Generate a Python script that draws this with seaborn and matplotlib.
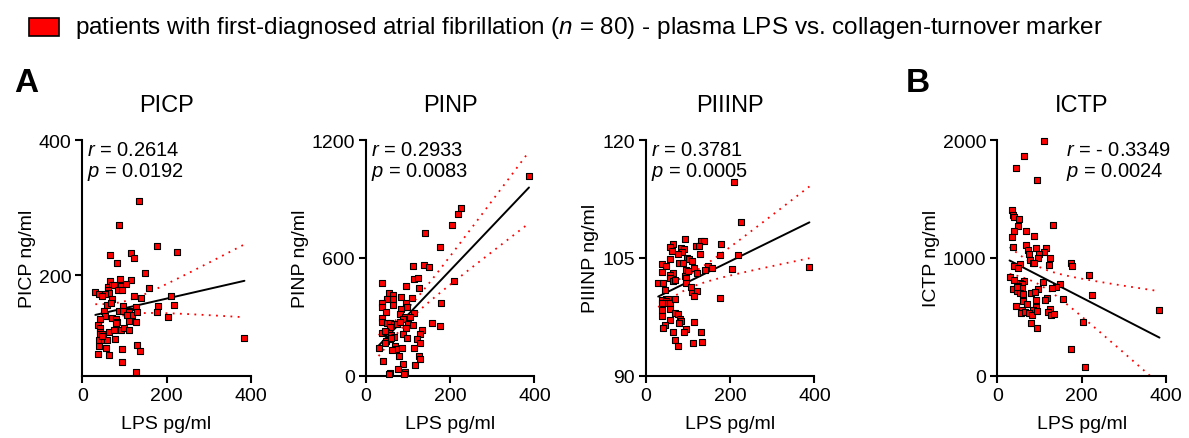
import numpy as np
import matplotlib
matplotlib.use("Agg")
import matplotlib.pyplot as plt
import matplotlib.patches as mpatches
import seaborn as sns

# values (LPS pg/ml vs. marker)
picp_lps = [135, 87, 177, 226, 67, 116, 123, 83, 149, 66, 90, 116, 60, 71, 76, 93, 103, 60, 64, 55,
            85, 94, 31, 39, 47, 158, 123, 140, 210, 71, 59, 180, 218, 97, 127, 112, 51, 86, 97, 111,
            118, 130, 177, 204, 53, 71, 80, 82, 112, 128, 41, 38, 41, 41, 41, 46, 49, 39, 51, 59,
            64, 76, 91, 99, 110, 77, 39, 57, 94, 130, 138, 38, 64, 95, 128, 385, 79, 68, 46, 105]
picp_val = [310, 275, 244, 235, 230, 233, 226, 219, 203, 192, 195, 194, 183, 186, 186, 184, 188, 178, 174, 172,
            178, 178, 175, 173, 170, 181, 170, 166, 170, 165, 156, 155, 157, 155, 154, 148, 148, 147, 148, 146,
            141, 146, 146, 139, 140, 137, 135, 132, 133, 132, 135, 127, 122, 117, 113, 113, 107, 104, 104, 104,
            117, 119, 120, 123, 119, 106, 96, 93, 91, 98, 88, 84, 82, 72, 57, 107, 130, 160, 110, 142]

pinp_lps = [387, 226, 219, 204, 139, 176, 111, 138, 149, 113, 123, 37, 94, 127, 210, 55, 63, 83, 109, 65,
            49, 38, 95, 178, 63, 39, 97, 84, 47, 114, 81, 93, 39, 89, 39, 49, 57, 67, 73, 80,
            99, 111, 157, 176, 95, 57, 39, 48, 54, 60, 87, 134, 129, 97, 122, 56, 48, 67, 59, 44,
            128, 30, 69, 72, 86, 115, 62, 125, 79, 129, 40, 89, 117, 75, 57, 55, 92, 90, 45, 104]
pinp_val = [1018, 852, 823, 766, 725, 654, 558, 566, 552, 492, 495, 472, 458, 448, 484, 421, 411, 399, 396, 391,
            391, 370, 372, 370, 362, 348, 348, 341, 323, 321, 314, 301, 292, 289, 275, 267, 267, 262, 262, 275,
            262, 260, 268, 251, 242, 250, 219, 224, 217, 209, 212, 231, 211, 192, 189, 187, 177, 199, 194, 168,
            166, 141, 150, 134, 143, 143, 131, 102, 102, 83, 75, 60, 56, 36, 16, 7, 17, 7, 230, 300]

piiinp_lps = [210, 226, 388, 93, 130, 138, 65, 56, 118, 127, 179, 83, 91, 86, 75, 128, 176, 219, 58, 98,
              102, 109, 79, 37, 47, 115, 148, 157, 139, 204, 94, 37, 64, 122, 57, 92, 94, 57, 63, 95,
              29, 40, 110, 122, 115, 176, 48, 52, 39, 47, 52, 58, 68, 38, 38, 56, 69, 75, 39, 56,
              81, 84, 78, 113, 45, 40, 95, 90, 130, 65, 69, 112, 134, 75, 100, 70, 44, 61, 88, 106]
piiinp_val = [114.7, 109.6, 103.8, 107.4, 107.2, 107.1, 106.8, 106.4, 106.5, 106.5, 106.8, 106.2, 106.1, 105.8, 105.5, 105.5, 105.3, 105.4, 104.9, 105.0,
              104.9, 104.6, 104.3, 104.2, 104.0, 103.7, 104.0, 103.7, 103.4, 103.6, 103.5, 103.2, 103.1, 103.1, 102.8, 102.7, 102.4, 102.4, 102.0, 101.8,
              101.8, 101.8, 100.6, 100.8, 100.1, 99.9, 99.8, 99.8, 99.6, 99.5, 99.3, 99.2, 99.8, 99.2, 98.4, 98.5, 98.0, 97.9, 97.6, 97.1,
              97.2, 97.0, 96.7, 96.8, 96.4, 96.1, 95.9, 95.6, 95.6, 95.5, 94.6, 94.2, 94.3, 93.8, 103.3, 102.2, 100.9, 105.9, 104.4, 101.3]

ictp_lps = [111, 64, 45, 93, 36, 38, 39, 51, 48, 133, 39, 68, 88, 36, 37, 69, 92, 115, 72, 110,
            75, 100, 126, 78, 96, 84, 88, 175, 178, 55, 39, 122, 50, 217, 29, 40, 64, 108, 54, 58,
            149, 49, 59, 140, 130, 38, 47, 54, 96, 81, 90, 225, 61, 117, 112, 156, 92, 62, 91, 44,
            126, 121, 58, 84, 56, 66, 74, 82, 93, 128, 135, 385, 203, 79, 95, 175, 209, 47, 60, 70]
ictp_val = [1989, 1861, 1765, 1663, 1409, 1363, 1344, 1327, 1273, 1279, 1225, 1225, 1185, 1177, 1095, 1109, 1086, 1081, 1064, 1052,
            1035, 1035, 996, 984, 999, 956, 953, 953, 933, 950, 933, 942, 911, 857, 834, 812, 803, 792, 786, 778,
            781, 761, 744, 750, 741, 738, 718, 704, 733, 701, 707, 682, 670, 662, 645, 648, 639, 631, 585, 588,
            566, 543, 557, 557, 535, 537, 532, 512, 546, 518, 520, 560, 455, 450, 402, 226, 71, 752, 690, 610]

titles = ["PICP", "PINP", "PIIINP", "ICTP"]
ylabels = ["PICP ng/ml", "PINP ng/ml", "PIIINP ng/ml", "ICTP ng/ml"]
r_text = ["0.2614", "0.2933", "0.3781", "- 0.3349"]
p_text = ["0.0192", "0.0083", "0.0005", "0.0024"]
yticks = [[200, 400], [0, 600, 1200], [90, 105, 120], [0, 1000, 2000]]
ylims = [(52, 400), (0, 1200), (90, 120), (0, 2000)]
xticks = [0, 200, 400]

sns.set_style("ticks")
plt.rcParams["font.family"] = ["Liberation Sans", "DejaVu Sans"]
plt.rcParams["mathtext.fontset"] = "custom"
plt.rcParams["mathtext.it"] = "Liberation Sans:italic"
plt.rcParams["mathtext.rm"] = "Liberation Sans"
for k in ["text.color", "axes.labelcolor", "xtick.color", "ytick.color", "axes.edgecolor"]:
    plt.rcParams[k] = "black"

fig = plt.figure(figsize=(11.89, 4.39), dpi=100)
lefts = [0.0692, 0.3078, 0.5433, 0.8388]
# where the r/p text starts, in axes fraction
txt_x = [0.03, 0.03, 0.03, 0.41]

data = [(picp_lps, picp_val), (pinp_lps, pinp_val), (piiinp_lps, piiinp_val), (ictp_lps, ictp_val)]

for i, (xs, ys) in enumerate(data):
    ax = fig.add_axes([lefts[i], 0.1419, 0.1417, 0.5369])
    x = np.array(xs, dtype=float)
    y = np.array(ys, dtype=float)

    # linear fit + 95% confidence band, drawn dotted like Prism
    n = len(x)
    slope, icpt = np.polyfit(x, y, 1)
    grid = np.linspace(x.min(), x.max(), 200)
    fit = icpt + slope * grid
    resid = y - (icpt + slope * x)
    s = np.sqrt(np.sum(resid ** 2) / (n - 2))
    sxx = np.sum((x - x.mean()) ** 2)
    half = 1.99 * s * np.sqrt(1 / n + (grid - x.mean()) ** 2 / sxx)
    ax.plot(grid, fit + half, color="red", ls=(0, (1, 3)), lw=1.3)
    ax.plot(grid, fit - half, color="red", ls=(0, (1, 3)), lw=1.3)

    sns.regplot(x=x, y=y, ax=ax, scatter=False, ci=None, color="black",
                line_kws={"lw": 1.4})
    sns.scatterplot(x=x, y=y, ax=ax, marker="s", s=13, color="red",
                    edgecolor="black", linewidth=0.8, zorder=5, clip_on=False)

    ax.set_xlim(0, 400)
    ax.set_ylim(*ylims[i])
    ax.set_xticks(xticks)
    ax.set_yticks(yticks[i])
    ax.tick_params(labelsize=14, width=1.5, length=5, color="black", pad=3)
    for sp in ["left", "bottom"]:
        ax.spines[sp].set_linewidth(1.5)
    sns.despine(ax=ax)
    ax.set_xlabel("LPS pg/ml", fontsize=14, labelpad=8)
    ax.set_ylabel(ylabels[i], fontsize=14, labelpad=2)
    ax.set_title(titles[i], fontsize=17, pad=21)

    ax.text(txt_x[i], 1.0, f"$r$ = {r_text[i]}\n$p$ = {p_text[i]}",
            transform=ax.transAxes, ha="left", va="top", fontsize=14.5,
            linespacing=1.05)

fig.text(0.012, 0.79, "A", fontsize=24, fontweight="bold")
fig.text(0.762, 0.79, "B", fontsize=24, fontweight="bold")

fig.add_artist(mpatches.Rectangle((29 / 1189, 1 - 37 / 439), 30 / 1189, 18 / 439,
                                  transform=fig.transFigure, facecolor="red",
                                  edgecolor="black", lw=1.2))
fig.text(75 / 1189, 1 - 28 / 439,
         "patients with first-diagnosed atrial fibrillation ($n$ = 80) - plasma LPS vs. collagen-turnover marker",
         fontsize=17.5, va="center")

fig.savefig("out.png", dpi=100)
